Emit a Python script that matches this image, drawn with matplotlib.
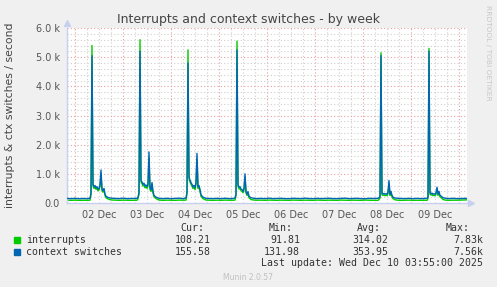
import numpy as np
import matplotlib
matplotlib.use("Agg")
import matplotlib.pyplot as plt
from matplotlib.patches import Rectangle

# hours since 02 Dec 00:00 (graph runs 01 Dec 20:00 -> 10 Dec 04:00)
hours = [
    -4, -2, 0, 2, 4, 6,
    7.5, 8, 8.5, 9, 9.5, 10, 10.5, 11, 11.5, 12, 12.5, 13, 13.5, 14, 14.5, 15, 15.5, 16.5, 18,
    20, 22, 24, 26, 28, 30,
    31, 31.5, 32, 32.5, 33, 33.5, 34, 34.5, 35, 35.5, 36, 36.5, 37, 37.5, 38, 38.5, 39, 39.5, 40.5, 42,
    44, 46, 48, 50, 52, 54,
    55.5, 56, 56.5, 57, 57.5, 58, 58.5, 59, 59.5, 60, 60.5, 61, 61.5, 62, 62.5, 63, 64, 65.5,
    67, 69, 71, 73, 75, 77, 79,
    80, 80.5, 81, 81.5, 82, 82.5, 83, 83.5, 84, 84.5, 85, 85.5, 86, 86.5, 87, 88, 89.5,
    91, 93, 95, 97, 99, 101, 103, 105, 107, 109, 111, 113, 115, 117, 119,
    121, 123, 125, 127, 129, 131, 133, 135, 137, 139, 141, 143, 145, 147, 149,
    151.5, 152, 152.5, 153, 153.5, 154, 154.5, 155, 155.5, 156, 156.5, 157, 157.5, 158, 158.5, 159, 160, 161.5,
    163, 165, 167, 169, 171, 173, 175,
    176, 176.5, 177, 177.5, 178, 178.5, 179, 179.5, 180, 180.5, 181, 181.5, 182, 182.5, 183, 184, 185.5,
    187, 189, 191, 193, 195, 196,
]

interrupts = [
    95, 92, 98, 90, 95, 92,
    95, 280, 5400, 580, 500, 540, 470, 500, 420, 450, 560, 1000, 430, 370, 450, 260, 180, 140, 105,
    100, 92, 98, 95, 92, 96,
    95, 140, 300, 5600, 720, 660, 580, 620, 520, 560, 500, 590, 1550, 460, 400, 640, 340, 210, 150, 100,
    92, 98, 95, 92, 100, 95,
    100, 320, 5250, 840, 720, 640, 580, 500, 540, 460, 640, 1500, 500, 540, 400, 230, 150, 100,
    95, 92, 98, 92, 100, 95, 95,
    100, 250, 5550, 580, 480, 500, 420, 400, 350, 440, 880, 350, 260, 330, 180, 120, 100,
    95, 98, 92, 100, 95, 92, 98, 95, 92, 100, 95, 92, 98, 95, 92,
    100, 95, 92, 98, 95, 92, 100, 95, 92, 98, 95, 92, 100, 95, 92,
    90, 120, 170, 5150, 280, 260, 280, 250, 270, 250, 320, 650, 260, 340, 210, 150, 110, 95,
    92, 95, 98, 92, 95, 92, 95,
    90, 150, 5300, 300, 270, 290, 250, 270, 250, 300, 460, 260, 340, 210, 190, 120, 95,
    92, 98, 95, 100, 105, 108,
]

ctx_switches = [
    155, 150, 160, 148, 155, 150,
    160, 340, 5050, 640, 560, 600, 520, 560, 470, 500, 620, 1130, 480, 420, 500, 300, 230, 190, 165,
    158, 150, 165, 150, 155, 160,
    160, 200, 360, 5200, 780, 720, 640, 680, 580, 620, 560, 650, 1750, 520, 460, 700, 400, 260, 200, 160,
    150, 160, 150, 158, 165, 150,
    170, 380, 4800, 900, 780, 700, 640, 560, 600, 520, 700, 1700, 560, 600, 460, 280, 200, 160,
    155, 150, 160, 150, 162, 150, 155,
    170, 300, 5250, 640, 540, 560, 480, 460, 400, 500, 1000, 400, 300, 390, 230, 180, 160,
    150, 158, 150, 165, 150, 155, 160, 150, 148, 160, 155, 150, 165, 152, 150,
    160, 150, 155, 162, 150, 150, 158, 165, 150, 155, 160, 150, 148, 160, 155,
    160, 180, 220, 5050, 330, 310, 330, 300, 320, 300, 380, 770, 300, 400, 260, 200, 170, 160,
    155, 150, 160, 150, 158, 150, 155,
    160, 200, 5200, 360, 320, 340, 300, 320, 300, 350, 540, 300, 400, 260, 240, 180, 160,
    150, 160, 150, 155, 158, 156,
]

day_labels = ["02 Dec", "03 Dec", "04 Dec", "05 Dec", "06 Dec", "07 Dec", "08 Dec", "09 Dec"]
y_ticks = [0, 1000, 2000, 3000, 4000, 5000, 6000]
y_labels = ["0.0", "1.0 k", "2.0 k", "3.0 k", "4.0 k", "5.0 k", "6.0 k"]

series = ["interrupts", "context switches"]
colors = ["#00cc00", "#0066b3"]
cur = ["108.21", "155.58"]
vmin = ["91.81", "131.98"]
avg = ["314.02", "353.95"]
vmax = ["7.83k", "7.56k"]

W, H = 497, 287
fig = plt.figure(figsize=(W / 100, H / 100), dpi=100)
fig.patch.set_facecolor("#f0f0f0")
ax = fig.add_axes([67 / W, 1 - 203 / H, 400 / W, 175 / H])
ax.set_facecolor("white")
ax.set_xlim(-4, 196)
ax.set_ylim(0, 6000)

# grid: grey every 6h / 200, red every day / 1k
for h in range(0, 197, 6):
    c = "#e6a0a0" if h % 24 == 0 else "#cfcfcf"
    ax.axvline(h, color=c, lw=0.8, ls=(0, (1, 2)), zorder=0)
for v in range(200, 6001, 200):
    c = "#e6a0a0" if v % 1000 == 0 else "#cfcfcf"
    ax.axhline(v, color=c, lw=0.8, ls=(0, (1, 2)), zorder=0)

ax.plot(hours, interrupts, color=colors[0], lw=1.0, zorder=2)
ax.plot(hours, ctx_switches, color=colors[1], lw=1.0, zorder=3)

ax.set_xticks([12 + 24 * i for i in range(len(day_labels))])
ax.set_xticklabels(day_labels)
ax.set_yticks(y_ticks)
ax.set_yticklabels(y_labels)
ax.tick_params(length=0, labelsize=7, colors="#555555", pad=5)

for s in ["top", "right"]:
    ax.spines[s].set_visible(False)
for s in ["left", "bottom"]:
    ax.spines[s].set_color("#c8d0f0")
    ax.spines[s].set_linewidth(1)
ax.plot([0], [1.03], marker="^", ms=4, color="#c8d0f0", transform=ax.transAxes, clip_on=False)
ax.plot([1.01], [0], marker=">", ms=4, color="#c8d0f0", transform=ax.transAxes, clip_on=False)

fig.text(0.5, 1 - 19 / H, "Interrupts and context switches - by week",
         ha="center", va="center", fontsize=9, color="#444444")
fig.text(10 / W, 1 - 115 / H, "interrupts & ctx switches / second", rotation=90,
         ha="center", va="center", fontsize=7.8, color="#444444")
fig.text(488 / W, 1 - 5 / H, "RRDTOOL / TOBI OETIKER", rotation=270,
         ha="center", va="top", fontsize=5.4, color="#c8c8c8")

mono = dict(family="DejaVu Sans Mono", fontsize=7.1, color="#333333", va="center")
for x, t in [(204, "Cur:"), (293, "Min:"), (381, "Avg:"), (470, "Max:")]:
    fig.text(x / W, 1 - 228 / H, t, ha="right", **mono)
for i, name in enumerate(series):
    y = 240 + 12 * i
    fig.patches.append(Rectangle((14 / W, 1 - (y + 3) / H), 6 / W, 6 / H,
                                 transform=fig.transFigure, color=colors[i]))
    fig.text(26 / W, 1 - y / H, name, ha="left", **mono)
    for x, vals in [(211, cur), (300, vmin), (388, avg), (483, vmax)]:
        fig.text(x / W, 1 - y / H, vals[i], ha="right", **mono)
fig.text(483 / W, 1 - 263.5 / H, "Last update: Wed Dec 10 03:55:00 2025", ha="right", **mono)
fig.text(248 / W, 1 - 277 / H, "Munin 2.0.57", ha="center", va="center",
         fontsize=5.5, color="#c0c0c0")

fig.savefig("out.png", dpi=100, facecolor=fig.get_facecolor())
